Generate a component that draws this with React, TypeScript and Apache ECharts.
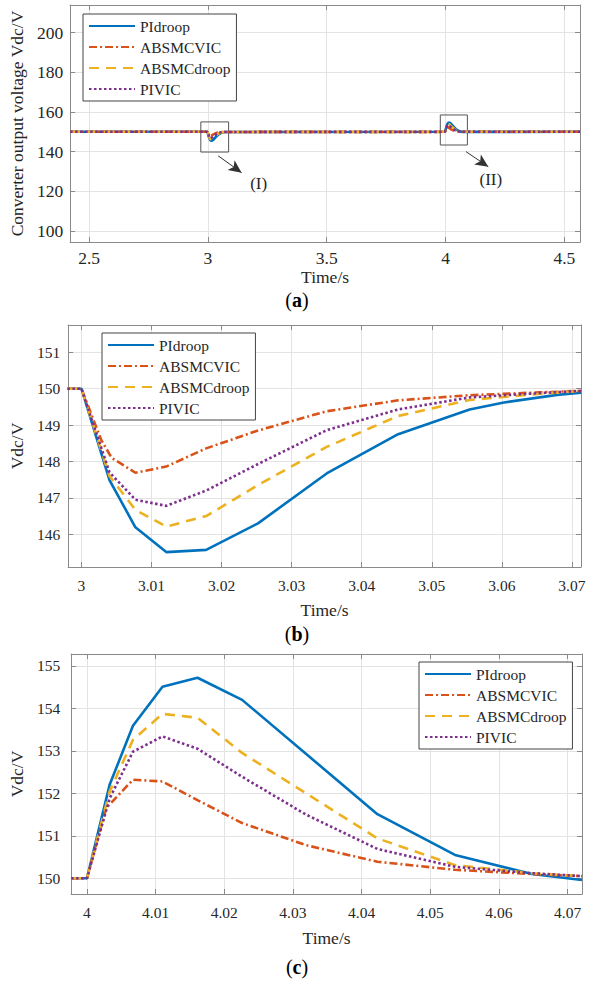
import React, { useEffect, useRef } from "react";
import * as echarts from "echarts";

const SERIES_NAMES = ["PIdroop", "ABSMCVIC", "ABSMCdroop", "PIVIC"];
const COLORS = ["#0072BD", "#D95319", "#EDB120", "#7E2F8E"];
const DASHES: any[] = ["solid", [8, 3, 2, 3], [10, 7], [2.5, 2.5]];

// Panel (b): load step at t = 3 s  [time, Vdc]
const bPIdroop = [[2.998, 150], [3.0, 150], [3.004, 147.49], [3.0077, 146.19], [3.0121, 145.51], [3.0178, 145.57], [3.0252, 146.3], [3.035, 147.67], [3.0452, 148.75], [3.0554, 149.43], [3.0603, 149.62], [3.0679, 149.83], [3.0713, 149.89]];
const bABSMCVIC = [[2.998, 150], [3.0, 150], [3.0028, 148.6], [3.0043, 148.1], [3.0077, 147.69], [3.0121, 147.86], [3.0178, 148.36], [3.0252, 148.85], [3.035, 149.38], [3.0452, 149.68], [3.0554, 149.82], [3.0655, 149.9], [3.0713, 149.94]];
const bABSMCdroop = [[2.998, 150], [3.0, 150], [3.004, 147.6], [3.0077, 146.67], [3.0121, 146.21], [3.0178, 146.5], [3.0252, 147.35], [3.035, 148.4], [3.0452, 149.25], [3.0554, 149.69], [3.0655, 149.86], [3.0713, 149.94]];
const bPIVIC = [[2.998, 150], [3.0, 150], [3.004, 147.7], [3.0077, 146.95], [3.0121, 146.78], [3.0178, 147.2], [3.0252, 147.93], [3.035, 148.86], [3.0452, 149.43], [3.0554, 149.76], [3.0655, 149.88], [3.0713, 149.94]];

// Panel (c): load step at t = 4 s  [time, Vdc]
const cPIdroop = [[3.9977, 150], [4.0, 150], [4.0033, 152.2], [4.0067, 153.59], [4.011, 154.51], [4.0161, 154.72], [4.0226, 154.2], [4.0423, 151.51], [4.0536, 150.55], [4.0648, 150.1], [4.0721, 149.96]];
const cABSMCVIC = [[3.9977, 150], [4.0, 150], [4.0028, 151.65], [4.0067, 152.32], [4.011, 152.28], [4.0161, 151.84], [4.0226, 151.3], [4.0319, 150.78], [4.0423, 150.39], [4.0536, 150.2], [4.0648, 150.1], [4.0721, 150.05]];
const cABSMCdroop = [[3.9977, 150], [4.0, 150], [4.0033, 152.04], [4.0067, 153.26], [4.011, 153.87], [4.0161, 153.78], [4.0226, 152.95], [4.0423, 150.94], [4.0536, 150.31], [4.0648, 150.12], [4.0721, 150.05]];
const cPIVIC = [[3.9977, 150], [4.0, 150], [4.0033, 151.88], [4.0067, 152.98], [4.011, 153.34], [4.0161, 153.05], [4.0226, 152.39], [4.0319, 151.5], [4.0423, 150.69], [4.0536, 150.27], [4.0648, 150.12], [4.0721, 150.05]];

// Panel (a) overview endpoints
const aStart = [[2.42, 150]];
const aEnd = [[4.566, 150]];

const bSeries = [bPIdroop, bABSMCVIC, bABSMCdroop, bPIVIC];
const cSeries = [cPIdroop, cABSMCVIC, cABSMCdroop, cPIVIC];

// Axis ranges
const aX = [2.42, 4.566];
const aY = [94.4, 214];
const bX = [2.9981, 3.0713];
const bY = [145.1, 151.75];
const cX = [3.9977, 4.0721];
const cY = [149.63, 155.28];

// Annotations in panel (a)
const zoomBoxes = [
  [[2.97, 155.0], [3.087, 139.8]],
  [[3.978, 158.5], [4.092, 143.35]],
];
const arrows = [
  [[3.043, 137.9], [3.1417, 129.4]],
  [[4.086, 140.0], [4.18, 132.4]],
];
const arrowLabels = [
  { name: "(I)", coord: [3.2135, 123.8] },
  { name: "(II)", coord: [4.1906, 125.8] },
];

const FONT = "Liberation Serif";
const TXT = "#262626";
const AX = "#8a8a8a";
const GRIDC = "#e3e3e3";

function axesPair(
  kind: "x" | "y",
  gi: number,
  range: number[],
  name: string,
  nameGap: number,
  labelSize: number,
  labelMargin: number
) {
  const main: any = {
    type: "value",
    gridIndex: gi,
    min: range[0],
    max: range[1],
    position: kind === "x" ? "bottom" : "left",
    name,
    nameLocation: "middle",
    nameGap,
    nameTextStyle: { fontFamily: FONT, fontSize: 17.5, color: TXT },
    axisLine: { show: true, lineStyle: { color: AX, width: 1 } },
    axisTick: { show: true, inside: true, length: 5, lineStyle: { color: AX } },
    axisLabel: {
      show: true,
      showMinLabel: false,
      showMaxLabel: false,
      fontFamily: FONT,
      fontSize: labelSize,
      color: TXT,
      margin: labelMargin,
    },
    splitLine: { show: true, lineStyle: { color: GRIDC, width: 1 } },
  };
  const twin: any = {
    type: "value",
    gridIndex: gi,
    min: range[0],
    max: range[1],
    position: kind === "x" ? "top" : "right",
    axisLine: { show: true, lineStyle: { color: AX, width: 1 } },
    axisTick: { show: true, inside: true, length: 5, lineStyle: { color: AX } },
    axisLabel: { show: false },
    splitLine: { show: false },
  };
  return [main, twin];
}

function legendAt(left: number, top: number) {
  return {
    orient: "vertical",
    left,
    top,
    data: SERIES_NAMES,
    itemWidth: 46,
    itemHeight: 14,
    itemGap: 5,
    padding: [4, 6, 4, 5],
    borderColor: "#444",
    borderWidth: 1,
    backgroundColor: "#fff",
    selectedMode: false,
    itemStyle: { color: "rgba(0,0,0,0)", borderColor: "rgba(0,0,0,0)", borderWidth: 0, opacity: 0 },
    textStyle: { fontFamily: FONT, fontSize: 15.5, color: TXT },
  };
}

function lineSeries(name: string, idx: number, data: number[][], axisIdx: number, extra: any = {}) {
  return {
    type: "line",
    name,
    data,
    xAxisIndex: axisIdx,
    yAxisIndex: axisIdx,
    symbol: "none",
    showSymbol: false,
    z: 2 + idx,
    lineStyle: { color: COLORS[idx], width: 2.6, type: DASHES[idx] },
    itemStyle: { color: COLORS[idx] },
    ...extra,
  };
}

function panelLabel(letter: string, y: number) {
  return {
    type: "text",
    x: 297,
    y,
    style: {
      text: `{n|(}{b|${letter}}{n|)}`,
      align: "center",
      verticalAlign: "middle",
      rich: {
        n: { fontFamily: FONT, fontSize: 20, fill: "#000" },
        b: { fontFamily: FONT, fontSize: 20, fontWeight: "bold", fill: "#000" },
      },
    },
  };
}

export default function App() {
  const ref = useRef<HTMLDivElement>(null);
  useEffect(() => {
    if (!ref.current) return;
    const chart = echarts.init(ref.current, undefined, { renderer: "svg" });

    const xA = axesPair("x", 0, aX, "Time/s", 23, 17.5, 7);
    const yA = axesPair("y", 0, aY, "Converter output voltage Vdc/V", 42, 17.5, 7);
    const xB = axesPair("x", 1, bX, "Time/s", 34, 15.5, 10);
    const yB = axesPair("y", 1, bY, "Vdc/V", 40, 15.5, 8);
    const xC = axesPair("x", 2, cX, "Time/s", 35, 15.5, 10);
    const yC = axesPair("y", 2, cY, "Vdc/V", 37, 15.5, 11);

    const series: any[] = [];
    SERIES_NAMES.forEach((n, i) => {
      const extra: any = {};
      if (i === 0) {
        extra.markArea = {
          silent: true,
          itemStyle: { color: "rgba(0,0,0,0)", borderColor: "#555", borderWidth: 1 },
          label: { show: false },
          data: zoomBoxes.map((b) => [{ coord: b[0] }, { coord: b[1] }]),
        };
        extra.markLine = {
          silent: true,
          symbol: ["none", "arrow"],
          symbolSize: [9, 13],
          label: { show: false },
          lineStyle: { color: "#333", width: 1, type: "solid" },
          data: arrows.map((a) => [{ coord: a[0] }, { coord: a[1] }]),
        };
        extra.markPoint = {
          silent: true,
          symbol: "rect",
          symbolSize: 1,
          itemStyle: { color: "rgba(0,0,0,0)" },
          label: { show: true, position: "inside", formatter: "{b}", fontFamily: FONT, fontSize: 17, color: TXT },
          data: arrowLabels.map((l) => ({ name: l.name, coord: l.coord })),
        };
      }
      series.push(lineSeries(n, i, [...aStart, ...bSeries[i], ...cSeries[i], ...aEnd], 0, extra));
    });
    SERIES_NAMES.forEach((n, i) => series.push(lineSeries(n, i, bSeries[i], 2)));
    SERIES_NAMES.forEach((n, i) => series.push(lineSeries(n, i, cSeries[i], 4)));

    const option: any = {
      animation: false,
      backgroundColor: "#fff",
      textStyle: { fontFamily: FONT },
      grid: [
        { left: 70, top: 5, right: 10, height: 237 },
        { left: 64, top: 325, right: 9, height: 242 },
        { left: 61, top: 654, right: 8, height: 240 },
      ],
      xAxis: [...xA, ...xB, ...xC],
      yAxis: [...yA, ...yB, ...yC],
      legend: [legendAt(83, 14), legendAt(102, 333), legendAt(419, 662)],
      series,
      graphic: [panelLabel("a", 300), panelLabel("b", 634), panelLabel("c", 967)],
    };
    chart.setOption(option);
    return () => chart.dispose();
  }, []);
  return (
    <div
      ref={ref}
      style={{ position: "fixed", left: 0, top: 0, width: 590, height: 982, background: "#fff" }}
    />
  );
}
